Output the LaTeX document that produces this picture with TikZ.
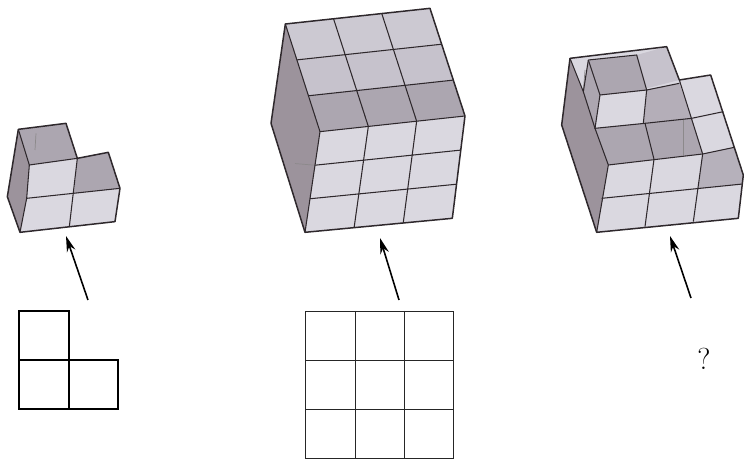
\documentclass[tikz,border=0pt]{standalone}
\usetikzlibrary{arrows.meta,calc}
\definecolor{lightf}{HTML}{DAD8E0}
\definecolor{midf}{HTML}{C6C2CC}
\definecolor{darkf}{HTML}{ACA6B0}
\definecolor{sidef}{HTML}{9C939C}
\definecolor{ink}{HTML}{2E282C}
\tikzset{
  x=0.02cm,y=-0.02cm,
  edge/.style={draw=ink,line width=0.85pt,line join=round},
  thin edge/.style={draw=ink,line width=0.6pt},
  faint/.style={draw=ink!55,line width=0.4pt},
  grid line/.style={draw=black!85,line width=0.5pt},
  pointer/.style={draw=black,line width=0.9pt,-{Stealth[length=9pt,width=5pt]}},
}
\begin{document}
\begin{tikzpicture}
\useasboundingbox (0,0) rectangle (744,459);

% ---------- small solid ----------
\begin{scope}[shift={(0,110)},x=0.02cm/3,y=-0.02cm/3]
\fill[lightf] (55,58)--(198,40)--(232,145)--(325,127)--(360,235)--(345,335)--(60,367)--(22,260)--cycle;
\fill[darkf] (55,58)--(198,40)--(232,145)--(88,165)--cycle;
\fill[darkf] (232,145)--(325,127)--(360,235)--(222,250)--cycle;
\fill[sidef] (55,58)--(88,165)--(80,265)--(60,367)--(22,260)--cycle;
\draw[edge] (55,58)--(198,40)--(232,145)--(325,127)--(360,235)--(345,335)--(60,367)--(22,260)--cycle;
\draw[thin edge] (55,58)--(88,165)--(232,145)--(208,350);
\draw[thin edge] (88,165)--(80,265)--(60,367);
\draw[thin edge] (80,265)--(360,235);
\draw[faint] (108,70)--(105,120);
\end{scope}

% ---------- cube ----------
\begin{scope}[shift={(260,0)},x=0.02cm/3,y=-0.02cm/3]
\coordinate (A) at (76,72); \coordinate (B) at (510,25);
\coordinate (C) at (615,348); \coordinate (D) at (180,395);
\coordinate (E) at (577,655); \coordinate (F) at (135,697);
\coordinate (G) at (33,370);
\fill[midf] (A)--(B)--(C)--(D)--cycle;
\fill[midf!70!lightf] (A)--(B)--($(B)!1/3!(C)$)--($(A)!1/3!(D)$)--cycle;
\fill[darkf] ($(A)!2/3!(D)$)--($(B)!2/3!(C)$)--(C)--(D)--cycle;
\fill[lightf] (D)--(C)--(E)--(F)--cycle;
\fill[sidef] (A)--(D)--(F)--(G)--cycle;
\foreach \t in {1/3,2/3}{
  \draw[thin edge] ($(A)!\t!(B)$)--($(D)!\t!(C)$)--($(F)!\t!(E)$);
  \draw[thin edge] ($(A)!\t!(D)$)--($(B)!\t!(C)$);
  \draw[thin edge] ($(D)!\t!(F)$)--($(C)!\t!(E)$);
}
\draw[faint] ($(D)!1/3!(F)+(-60,-5)$)--($(D)!1/3!(F)$);
\draw[thin edge] (A)--(D)--(C);
\draw[thin edge] (D)--(F);
\draw[edge] (A)--(B)--(C)--(E)--(F)--(G)--cycle;
\end{scope}

% ---------- stepped solid ----------
\begin{scope}[shift={(550,30)},x=0.02cm/3,y=-0.02cm/3]
\fill[lightf] (60,85)--(350,50)--(388,150)--(482,135)--(580,435)--(565,565)--(140,607)--(35,285)--cycle;
\fill[midf] (260,75)--(350,50)--(388,150)--(290,175)--cycle;
\fill[darkf] (115,90)--(260,75)--(290,180)--(150,195)--cycle;
\fill[darkf!70!midf] (290,180)--(388,160)--(425,265)--(280,280)--cycle;
\fill[darkf] (135,295)--(285,280)--(312,388)--(175,405)--cycle;
\fill[darkf] (285,280)--(425,265)--(458,372)--(312,388)--cycle;
\fill[darkf!60!midf] (458,372)--(553,352)--(580,435)--(578,462)--(445,475)--cycle;
\fill[sidef] (60,85)--(100,185)--(135,295)--(175,405)--(140,607)--(35,285)--cycle;
\fill[darkf] (115,90)--(150,195)--(135,295)--(100,185)--cycle;
\draw[faint] (400,270)--(400,375);
\draw[faint] (105,120)--(100,185);
\draw[thin edge] (115,90)--(260,75)--(290,180)--(150,195)--(135,295)--(285,280)--(312,388);
\draw[thin edge] (115,90)--(150,195);
\draw[thin edge] (115,90)--(100,185)--(60,85);
\draw[thin edge] (100,185)--(135,295)--(175,405)--(140,607);
\draw[thin edge] (290,180)--(388,160);
\draw[thin edge] (290,180)--(280,280);
\draw[thin edge] (285,280)--(425,265)--(520,245);
\draw[thin edge] (388,150)--(458,372)--(553,352);
\draw[thin edge] (175,405)--(458,372);
\draw[thin edge] (312,388)--(285,590);
\draw[thin edge] (458,372)--(430,575);
\draw[thin edge] (155,505)--(578,462);
\draw[edge] (60,85)--(350,50)--(388,150)--(482,135)--(580,435)--(565,565)--(140,607)--(35,285)--cycle;
\end{scope}

% ---------- arrows ----------
\coordinate (a1s) at (88,300); \coordinate (a1e) at (66,236);
\coordinate (a2s) at (399,300); \coordinate (a2e) at (380,238);
\coordinate (a3s) at (691,298); \coordinate (a3e) at (670,236);
\draw[pointer] (a1s)--(a1e);
\draw[pointer] (a2s)--(a2e);
\draw[pointer] (a3s)--(a3e);

% ---------- plans ----------
\draw[black,line width=0.75pt] (19,311)--(69,311)--(69,360)--(118,360)--(118,409)--(19,409)--cycle;
\draw[black,line width=0.75pt] (19,360)--(69,360)--(69,409);

\draw[grid line] (305,311) rectangle (453,458);
\draw[grid line] (355,311)--(355,458);
\draw[grid line] (404,311)--(404,458);
\draw[grid line] (305,360)--(453,360);
\draw[grid line] (305,409)--(453,409);

\node[inner sep=0pt,font=\LARGE] (q) at (704,359) {?};
\end{tikzpicture}
\end{document}
